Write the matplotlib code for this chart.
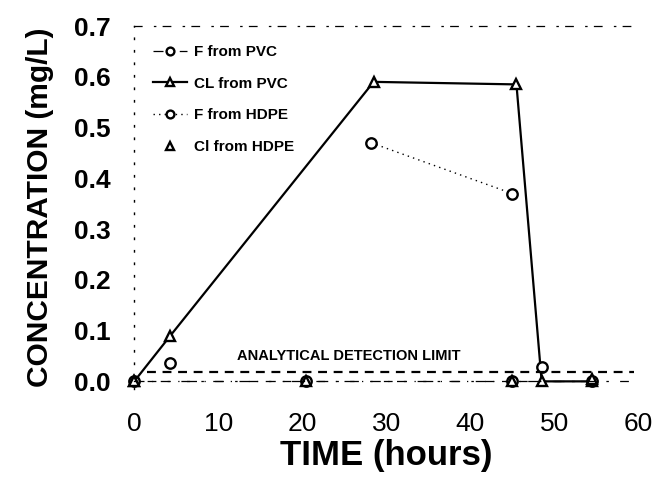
import matplotlib.pyplot as plt

plt.rcParams['font.family'] = ['Liberation Sans', 'DejaVu Sans']

# data (time in hours, concentration in mg/L)
f_pvc_t = [0, 20.5, 45, 54.5]
f_pvc_c = [0.0, 0.0, 0.0, 0.0]

cl_pvc_t = [0, 4.3, 28.5, 45.5, 48.5, 54.5]
cl_pvc_c = [0.0, 0.09, 0.59, 0.585, 0.0, 0.0]

f_hdpe_t = [4.3, 28.2, 45.0, 48.5]
f_hdpe_c = [0.037, 0.47, 0.37, 0.028]

cl_hdpe_t = [0, 20.5, 45, 54.5]
cl_hdpe_c = [0.0, 0.0, 0.0, 0.005]

detection_limit = 0.018
x_ticks = [0, 10, 20, 30, 40, 50, 60]
y_ticks = [0.0, 0.1, 0.2, 0.3, 0.4, 0.5, 0.6, 0.7]

fig = plt.figure(figsize=(6.58, 4.82), dpi=100)
ax = fig.add_axes([0.204, 0.193, 0.766, 0.753])

mk = dict(markerfacecolor='white', markeredgecolor='black', markeredgewidth=1.7,
          markersize=7.5, clip_on=False)

ax.plot(f_pvc_t, f_pvc_c, color='black', lw=0.9, ls=(0, (8, 6, 1, 6)),
        marker='o', label='F from PVC', **mk)
ax.plot(cl_pvc_t, cl_pvc_c, color='black', lw=1.6, ls='-',
        marker='^', label='CL from PVC', **mk)
# only the 28 h -> 45 h stretch of the dotted HDPE line survives in the scan
ax.plot(f_hdpe_t[1:3], f_hdpe_c[1:3], color='black', lw=1.0, ls=(0, (1, 3)))
ax.plot(f_hdpe_t, f_hdpe_c, color='black', lw=0, ls='none', marker='o', **mk)
ax.plot([], [], color='black', lw=1.0, ls=(0, (1, 3)), marker='o',
        label='F from HDPE', **mk)
ax.plot(cl_hdpe_t, cl_hdpe_c, color='black', lw=0, ls='none',
        marker='^', label='Cl from HDPE', **mk)

ax.plot([1.5, 59.5], [detection_limit, detection_limit], color='black',
        lw=1.6, ls=(0, (4, 3)))
ax.text(25.5, 0.05, 'ANALYTICAL DETECTION LIMIT', fontsize=10.5,
        fontweight='bold', ha='center', va='center')

ax.set_xlim(0, 60)
ax.set_ylim(-0.015, 0.7)
ax.set_xticks(x_ticks)
ax.set_xticklabels([str(v) for v in x_ticks], fontweight='bold')
ax.set_yticks(y_ticks)
ax.set_yticklabels([f'{v:.1f}' for v in y_ticks], fontweight='bold')
ax.tick_params(axis='x', length=0, pad=22, labelsize=19)
ax.tick_params(axis='y', length=0, pad=17, labelsize=19)

ax.set_xlabel('TIME (hours)', fontsize=25, fontweight='bold', labelpad=2)
ax.set_ylabel('CONCENTRATION (mg/L)', fontsize=21.5, fontweight='bold', labelpad=14)

ax.spines['right'].set_visible(False)
ax.spines['left'].set_linestyle((0, (1, 8)))
ax.spines['left'].set_linewidth(1.0)
ax.spines['top'].set_linestyle((0, (6, 10, 1, 6)))
ax.spines['top'].set_linewidth(0.9)
ax.spines['bottom'].set_linestyle((0, (1, 10, 6, 10)))
ax.spines['bottom'].set_linewidth(0.9)
ax.spines['bottom'].set_position(('data', 0.0))

ax.legend(loc='upper left', bbox_to_anchor=(0.01, 0.985), frameon=False,
          prop={'weight': 'bold', 'size': 11},
          handlelength=2.2, handletextpad=0.5, labelspacing=1.15,
          markerscale=0.75)

fig.savefig('out.png', dpi=100)
